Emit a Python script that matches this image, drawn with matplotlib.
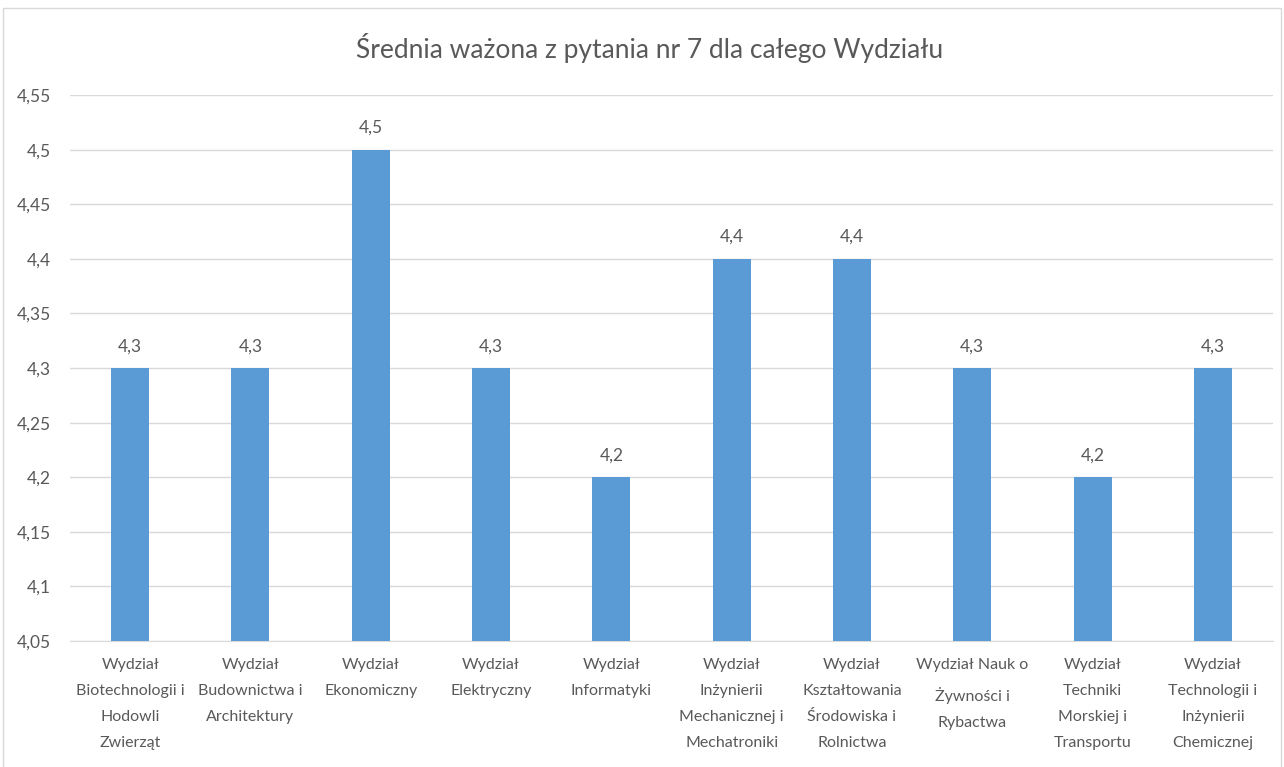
import matplotlib.pyplot as plt
from matplotlib.patches import Rectangle

plt.rcParams['font.family'] = ['Lato', 'DejaVu Sans']

kategorie = [
    "Wydział\nBiotechnologii i\nHodowli\nZwierząt",
    "Wydział\nBudownictwa i\nArchitektury",
    "Wydział\nEkonomiczny",
    "Wydział\nElektryczny",
    "Wydział\nInformatyki",
    "Wydział\nInżynierii\nMechanicznej i\nMechatroniki",
    "Wydział\nKształtowania\nŚrodowiska i\nRolnictwa",
    "Wydział Nauk o\nŻywności i\nRybactwa",
    "Wydział\nTechniki\nMorskiej i\nTransportu",
    "Wydział\nTechnologii i\nInżynierii\nChemicznej",
]
wartosci = [4.3, 4.3, 4.5, 4.3, 4.2, 4.4, 4.4, 4.3, 4.2, 4.3]
y_ticks = [4.05, 4.1, 4.15, 4.2, 4.25, 4.3, 4.35, 4.4, 4.45, 4.5, 4.55]
y_labels = ["4,05", "4,1", "4,15", "4,2", "4,25", "4,3", "4,35", "4,4", "4,45", "4,5", "4,55"]

tekst = "#595959"
fig = plt.figure(figsize=(12.84, 7.67), dpi=100)
ax = fig.add_axes([0.0545, 0.1643, 0.937, 0.7117])

x = range(len(wartosci))
ax.bar(x, wartosci, width=0.315, color="#5B9BD5", zorder=3)
for i, v in zip(x, wartosci):
    ax.annotate(f"{v:.1f}".replace(".", ","), (i, v), xytext=(0, 10),
                textcoords="offset points", ha="center", va="bottom",
                fontsize=12.5, color=tekst)

ax.set_xlim(-0.5, len(wartosci) - 0.5)
ax.set_ylim(4.05, 4.55)
ax.set_yticks(y_ticks)
ax.set_yticklabels(y_labels, fontsize=12.5, color=tekst)
ax.set_xticks(list(x))
ax.set_xticklabels(kategorie, fontsize=11.5, color=tekst, linespacing=2.1, va="top")
ax.tick_params(axis="both", length=0)
ax.tick_params(axis="x", pad=12)
ax.tick_params(axis="y", pad=14)
ax.grid(axis="y", color="#D9D9D9", linewidth=1, zorder=0)
for s in ax.spines.values():
    s.set_visible(False)
ax.spines["bottom"].set_visible(True)
ax.spines["bottom"].set_color("#D9D9D9")

fig.text(0.506, 0.937, "Średnia ważona z pytania nr 7 dla całego Wydziału",
         ha="center", va="center", fontsize=19, color=tekst)

fig.patches.append(Rectangle((3 / 1284, -0.01), 1278 / 1284, 1 - 8 / 767 + 0.01,
                             transform=fig.transFigure, fill=False,
                             edgecolor="#D9D9D9", linewidth=1))

fig.savefig("out.png", dpi=100)
